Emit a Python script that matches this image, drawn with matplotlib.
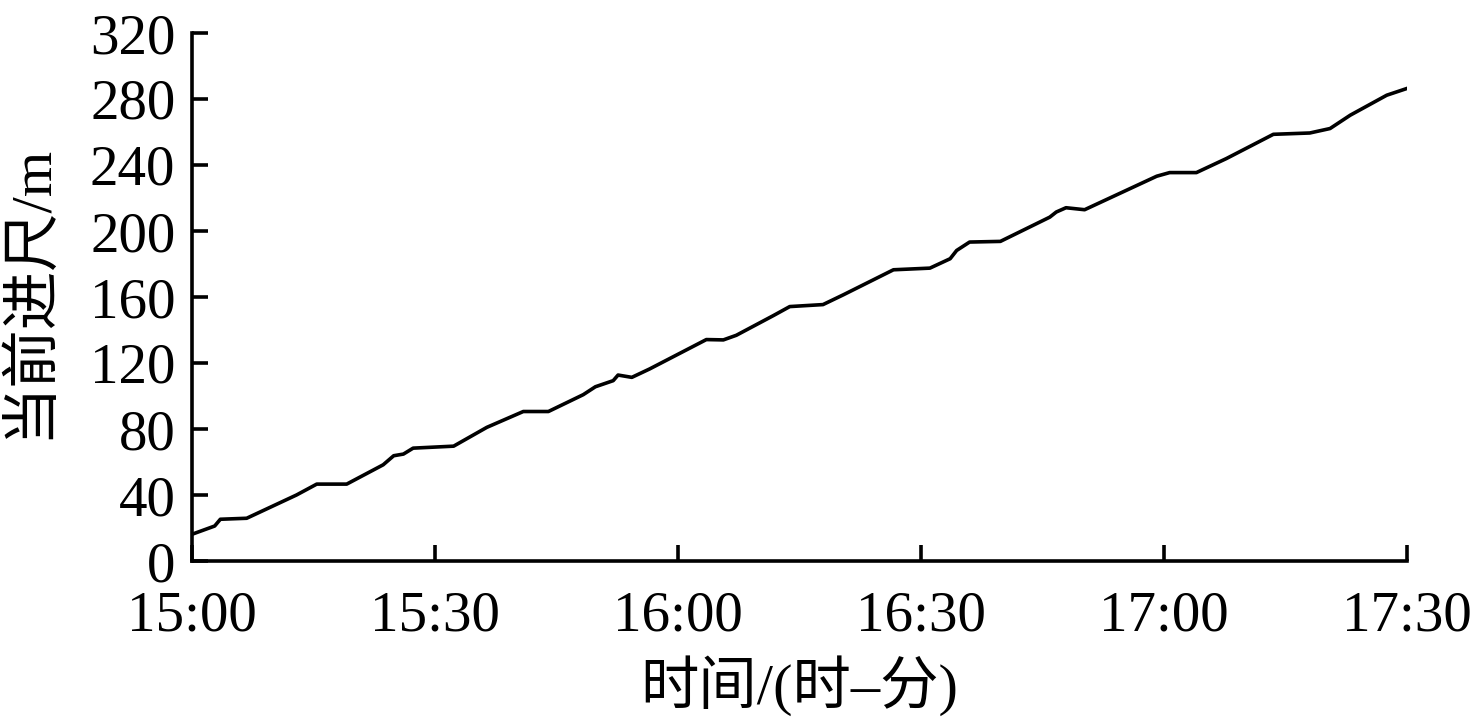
import matplotlib
matplotlib.use("Agg")
import matplotlib.pyplot as plt

# elapsed minutes since 15:00
minutes = [0, 2.8, 3.5, 6.75, 12.9, 15.4, 19.1, 23.6, 24.9, 26.1, 27.3, 32.3, 36.4,
           40.9, 44.0, 48.3, 49.8, 52.0, 52.6, 54.3, 56.5, 63.5, 65.6, 67.2, 71.8,
           73.8, 77.9, 80.4, 86.6, 91.1, 93.6, 94.4, 96.0, 99.8, 105.9, 106.7,
           107.9, 110.2, 119.1, 120.7, 124.0, 127.7, 133.5, 138.0, 140.5, 143.0,
           147.5, 150.0]
footage = [16.2, 21.2, 25.3, 25.9, 40.0, 46.6, 46.6, 58.3, 63.8, 64.8, 68.4, 69.6, 81.0,
           90.6, 90.6, 100.8, 105.6, 109.3, 112.7, 111.3, 116.4, 134.2, 134.0, 136.8,
           148.8, 154.2, 155.4, 161.3, 176.5, 177.5, 183.2, 188.2, 193.3, 193.7,
           208.4, 211.5, 214.1, 212.9, 233.2, 235.4, 235.4, 243.9, 258.6, 259.4,
           262.1, 270.2, 282.3, 286.4]

xtick_pos = [0, 30, 60, 90, 120, 150]
xtick_labels = ["15:00", "15:30", "16:00", "16:30", "17:00", "17:30"]
ytick_vals = [0, 40, 80, 120, 160, 200, 240, 280, 320]

fam = ["Liberation Serif", "Noto Sans CJK SC"]
plt.rcParams["font.family"] = fam

fig = plt.figure(figsize=(14.74, 7.26), dpi=100)
ax = fig.add_axes([192/1474, 1 - 561/726, (1407-192)/1474, (561-33)/726])

ax.plot(minutes, footage, color="black", lw=2.6, solid_joinstyle="round")

ax.set_xlim(0, 150)
ax.set_ylim(0, 320)
ax.set_xticks(xtick_pos)
ax.set_xticklabels(xtick_labels)
ax.set_yticks(ytick_vals)
ax.set_yticklabels([str(v) for v in ytick_vals])

for s in ["top", "right"]:
    ax.spines[s].set_visible(False)
for s in ["left", "bottom"]:
    ax.spines[s].set_linewidth(2.6)

ax.tick_params(direction="in", length=11.5, width=2.6, labelsize=41)
ax.tick_params(axis="y", pad=12)
ax.tick_params(axis="x", pad=21)

ax.set_xlabel("时间/(时–分)", fontsize=42)
ax.set_ylabel("当前进尺/m", fontsize=42)
ax.xaxis.set_label_coords(0.5, -0.178)
ax.yaxis.set_label_coords(-0.111, 0.51)

fig.savefig("out.png", dpi=100)
